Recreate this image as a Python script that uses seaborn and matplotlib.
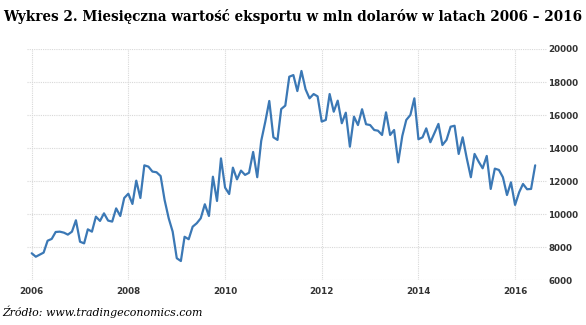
import numpy as np
import pandas as pd
import matplotlib
matplotlib.use("Agg")
import matplotlib.pyplot as plt
import matplotlib.dates as mdates
import seaborn as sns

# ---- data (monthly exports, mln USD, Jan 2006 - Jun 2016) ----
start_month = "2006-01-01"
export_values = [
    7620, 7410, 7530, 7660, 8380, 8490, 8910, 8930, 8870, 8750, 8930, 9620,
    8320, 8220, 9070, 8930, 9840, 9580, 10040, 9600, 9540, 10340, 9880, 10970,
    11230, 10610, 12020, 10970, 12950, 12870, 12570, 12530, 12300, 10850, 9740, 8930,
    7320, 7150, 8620, 8470, 9230, 9440, 9740, 10590, 9880, 12260, 10790, 13370,
    11600, 11210, 12810, 12100, 12630, 12370, 12500, 13760, 12230, 14430, 15600, 16850,
    14650, 14490, 16360, 16570, 18320, 18420, 17450, 18670, 17560, 17010, 17270, 17130,
    15600, 15700, 17270, 16200, 16870, 15500, 16140, 14080, 15900, 15390, 16350, 15440,
    15390, 15090, 15050, 14790, 16160, 14790, 15090, 13130, 14730, 15700, 16000, 17010,
    14530, 14650, 15190, 14350, 14890, 15460, 14180, 14490, 15290, 15350, 13640, 14650,
    13380, 12230, 13640, 13170, 12770, 13520, 11520, 12750, 12670, 12230, 11150, 11920,
    10550, 11320, 11820, 11500, 11520, 12950,
]
year_ticks = ["2006", "2008", "2010", "2012", "2014", "2016"]
y_ticks = [6000, 8000, 10000, 12000, 14000, 16000, 18000, 20000]
title = "Wykres 2. Miesięczna wartość eksportu w mln dolarów w latach 2006 – 2016"
source = "Źródło: www.tradingeconomics.com"

dates = pd.date_range(start_month, periods=len(export_values), freq="MS")
df = pd.DataFrame({"date": dates, "value": export_values})

sns.set_theme(style="white")
W, H = 586, 325
fig = plt.figure(figsize=(W / 100, H / 100), dpi=100)
ax = fig.add_axes([27 / W, 1 - 280 / H, (547 - 27) / W, (280 - 49) / H])

sns.lineplot(data=df, x="date", y="value", ax=ax, color="#3b78b5", linewidth=1.6)

t0 = mdates.date2num(pd.Timestamp(start_month))
ax.set_xlim(t0 - 1.17 * 30.44, t0 + 127.9 * 30.44)
ax.set_ylim(6000, 20000)
ax.set_xticks([mdates.date2num(pd.Timestamp(y + "-01-01")) for y in year_ticks])
ax.set_xticklabels(year_ticks)
ax.set_yticks(y_ticks)
ax.set_yticklabels([str(v) for v in y_ticks])
ax.yaxis.tick_right()
ax.tick_params(axis="y", length=0, pad=1, labelsize=6.3, labelcolor="#333333")
ax.tick_params(axis="x", length=0, pad=5, labelsize=6.3, labelcolor="#333333")
for lab in ax.get_xticklabels() + ax.get_yticklabels():
    lab.set_fontweight("bold")
ax.grid(True, color="#d8d8d8", linestyle=(0, (1, 1)), linewidth=0.8)
ax.set_xlabel("")
ax.set_ylabel("")
for s in ax.spines.values():
    s.set_visible(False)

renderer = fig.canvas.get_renderer()
t = fig.text(3 / W, 1 - 17 / H, title, ha="left", va="center",
             family="DejaVu Serif", fontweight="bold", fontsize=10, color="#000000")
bb = t.get_window_extent(renderer)
t.set_fontsize(10 * 580 / bb.width)

s = fig.text(2 / W, 1 - 312 / H, source, ha="left", va="center",
             family="DejaVu Serif", style="italic", fontsize=8, color="#000000")
bb = s.get_window_extent(renderer)
s.set_fontsize(8 * 200 / bb.width)

fig.savefig("out.png", dpi=100)
